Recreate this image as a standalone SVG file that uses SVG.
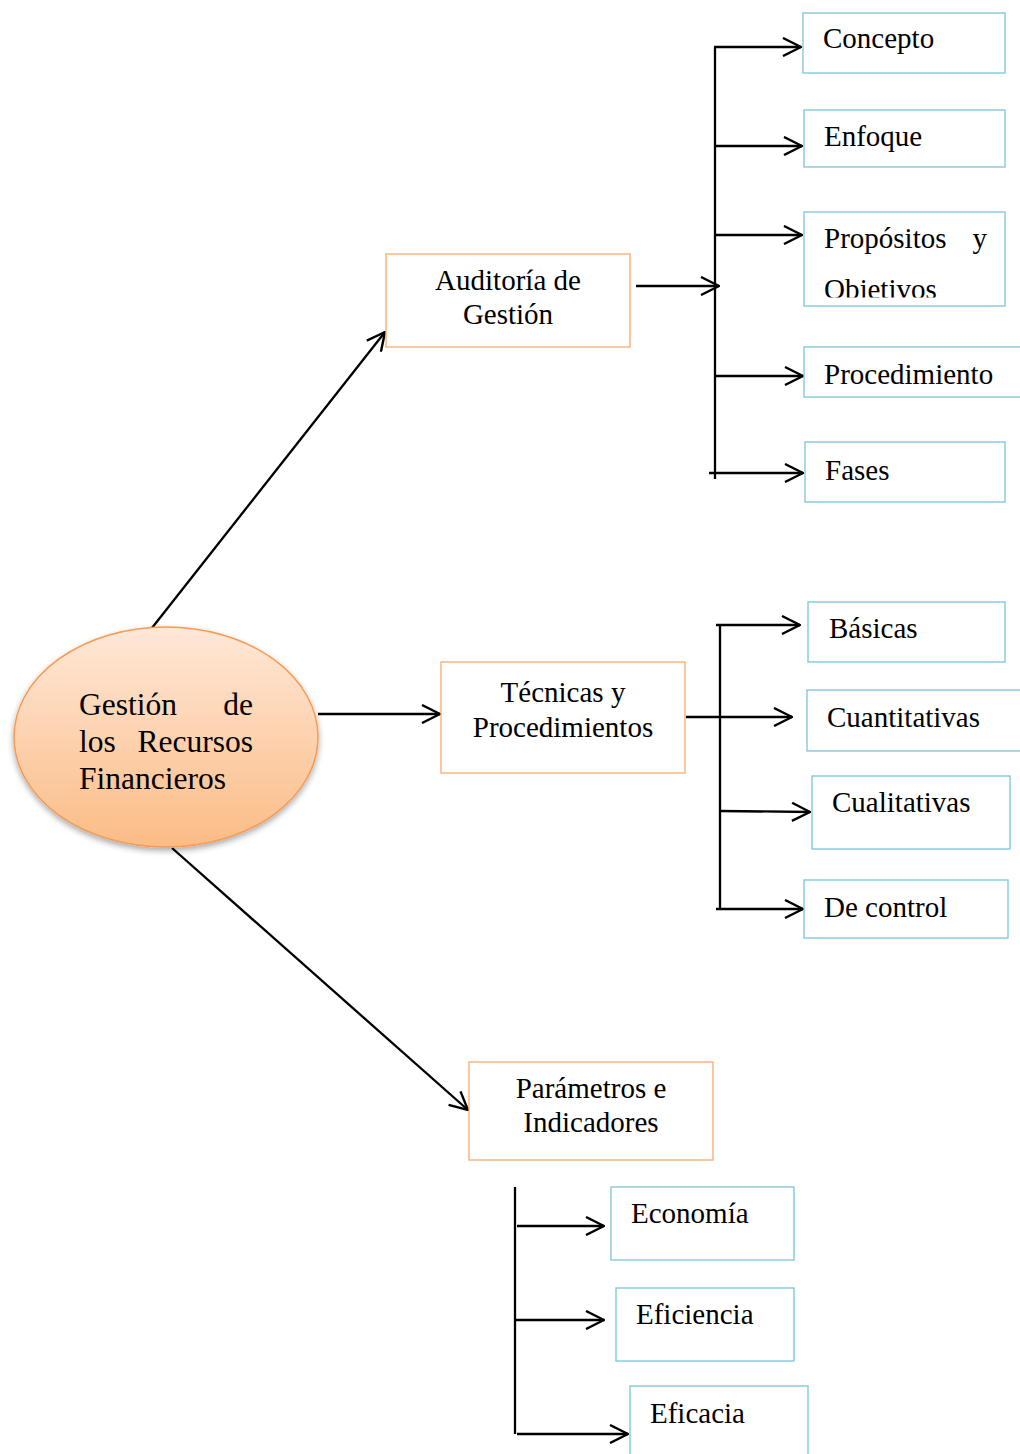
<svg xmlns="http://www.w3.org/2000/svg" width="1020" height="1454" viewBox="0 0 1020 1454">
  <style>
    text { font-family: "Liberation Serif", "Times New Roman", serif; fill: #000; }
    .t { font-size: 29px; }
    .big { font-size: 31.5px; }
    .mid { text-anchor: middle; }
    .end { text-anchor: end; }
    .box-o { fill: #fff; stroke: #F9A96E; stroke-width: 1.3; }
    .box-b { fill: #fff; stroke: #7CC3D9; stroke-width: 1.3; }
    .conn line { stroke: #000; stroke-width: 2.3; fill: none; }
    .arr { marker-end: url(#open); }
  </style>
  <defs>
    <marker id="open" viewBox="0 0 20 20" refX="19" refY="10" markerWidth="20" markerHeight="20" markerUnits="userSpaceOnUse" orient="auto">
      <path d="M1,1 L19,10 L1,19" fill="none" stroke="#000" stroke-width="2.4"/>
    </marker>
    <linearGradient id="peach" x1="0" y1="0" x2="0" y2="1">
      <stop offset="0" stop-color="#FEE8D8"/>
      <stop offset="1" stop-color="#FBBC86"/>
    </linearGradient>
    <filter id="shadow" x="-10%" y="-10%" width="120%" height="130%">
      <feGaussianBlur in="SourceAlpha" stdDeviation="3"/>
      <feOffset dx="0" dy="3" result="b"/>
      <feComponentTransfer><feFuncA type="linear" slope="0.35"/></feComponentTransfer>
      <feMerge><feMergeNode/><feMergeNode in="SourceGraphic"/></feMerge>
    </filter>
    <clipPath id="clipProp">
      <rect x="804" y="212" width="202" height="85.5"/>
    </clipPath>
  </defs>

  <rect width="1020" height="1454" fill="#fff"/>

  <!-- connectors -->
  <g class="conn">
    <!-- from the central ellipse -->
    <line class="arr" x1="148" y1="633" x2="385" y2="332"/>
    <line class="arr" x1="318" y1="714" x2="440" y2="714"/>
    <line class="arr" x1="172" y1="848" x2="468" y2="1110"/>

    <!-- Auditoría de Gestión branch -->
    <line class="arr" x1="636" y1="286" x2="719" y2="286"/>
    <line x1="715" y1="47" x2="715" y2="479"/>
    <line class="arr" x1="714" y1="47" x2="801" y2="47"/>
    <line class="arr" x1="715" y1="146" x2="802" y2="146"/>
    <line class="arr" x1="715" y1="235" x2="802" y2="235"/>
    <line class="arr" x1="715" y1="376" x2="803" y2="376"/>
    <line class="arr" x1="709" y1="473" x2="803" y2="473"/>

    <!-- Técnicas y Procedimientos branch -->
    <line x1="720" y1="625" x2="720" y2="909"/>
    <line class="arr" x1="686" y1="717" x2="792" y2="717"/>
    <line class="arr" x1="716" y1="625" x2="800" y2="625"/>
    <line class="arr" x1="720" y1="811" x2="810" y2="812"/>
    <line class="arr" x1="716" y1="909" x2="803" y2="909"/>

    <!-- Parámetros e Indicadores branch -->
    <line x1="515" y1="1187" x2="515" y2="1434"/>
    <line class="arr" x1="517" y1="1226" x2="604" y2="1226"/>
    <line class="arr" x1="515" y1="1320" x2="604" y2="1320"/>
    <line class="arr" x1="517" y1="1434" x2="628" y2="1434"/>
  </g>

  <!-- central node -->
  <g id="gestion">
    <ellipse cx="166" cy="737" rx="152" ry="110" fill="url(#peach)" stroke="#F79A52" stroke-width="1.5" filter="url(#shadow)"/>
    <text class="big" x="79" y="715">Gestión</text>
    <text class="big end" x="253" y="715">de</text>
    <text class="big" x="79" y="752">los</text>
    <text class="big end" x="253" y="752">Recursos</text>
    <text class="big" x="79" y="789">Financieros</text>
  </g>

  <!-- level 1 nodes -->
  <g id="auditoria">
    <rect class="box-o" x="386" y="254" width="244" height="93"/>
    <text class="t mid" x="508" y="290">Auditoría de</text>
    <text class="t mid" x="508" y="324">Gestión</text>
  </g>
  <g id="tecnicas">
    <rect class="box-o" x="441" y="662" width="244" height="111"/>
    <text class="t mid" x="563" y="702">Técnicas y</text>
    <text class="t mid" x="563" y="737">Procedimientos</text>
  </g>
  <g id="parametros">
    <rect class="box-o" x="469" y="1062" width="244" height="98"/>
    <text class="t mid" x="591" y="1098">Parámetros e</text>
    <text class="t mid" x="591" y="1132">Indicadores</text>
  </g>

  <!-- Auditoría children -->
  <g id="concepto">
    <rect class="box-b" x="803" y="13" width="202" height="60"/>
    <text class="t" x="823" y="48">Concepto</text>
  </g>
  <g id="enfoque">
    <rect class="box-b" x="804" y="110" width="201" height="57"/>
    <text class="t" x="824" y="146">Enfoque</text>
  </g>
  <g id="propositos">
    <rect class="box-b" x="804" y="212" width="201" height="94"/>
    <text class="t" x="824" y="248">Propósitos</text>
    <text class="t end" x="987" y="248">y</text>
    <text class="t" x="824" y="299" clip-path="url(#clipProp)">Objetivos</text>
  </g>
  <g id="procedimiento">
    <rect class="box-b" x="804" y="347" width="230" height="50"/>
    <text class="t" x="824" y="384">Procedimiento</text>
  </g>
  <g id="fases">
    <rect class="box-b" x="805" y="442" width="200" height="60"/>
    <text class="t" x="825" y="480">Fases</text>
  </g>

  <!-- Técnicas children -->
  <g id="basicas">
    <rect class="box-b" x="808" y="602" width="197" height="60"/>
    <text class="t" x="829" y="638">Básicas</text>
  </g>
  <g id="cuantitativas">
    <rect class="box-b" x="807" y="690" width="230" height="61"/>
    <text class="t" x="827" y="727">Cuantitativas</text>
  </g>
  <g id="cualitativas">
    <rect class="box-b" x="812" y="776" width="198" height="73"/>
    <text class="t" x="832" y="812">Cualitativas</text>
  </g>
  <g id="decontrol">
    <rect class="box-b" x="804" y="880" width="204" height="58"/>
    <text class="t" x="824" y="917">De control</text>
  </g>

  <!-- Parámetros children -->
  <g id="economia">
    <rect class="box-b" x="611" y="1187" width="183" height="73"/>
    <text class="t" x="631" y="1223">Economía</text>
  </g>
  <g id="eficiencia">
    <rect class="box-b" x="616" y="1288" width="178" height="73"/>
    <text class="t" x="636" y="1324">Eficiencia</text>
  </g>
  <g id="eficacia">
    <rect class="box-b" x="630" y="1386" width="178" height="80"/>
    <text class="t" x="650" y="1423">Eficacia</text>
  </g>
</svg>
